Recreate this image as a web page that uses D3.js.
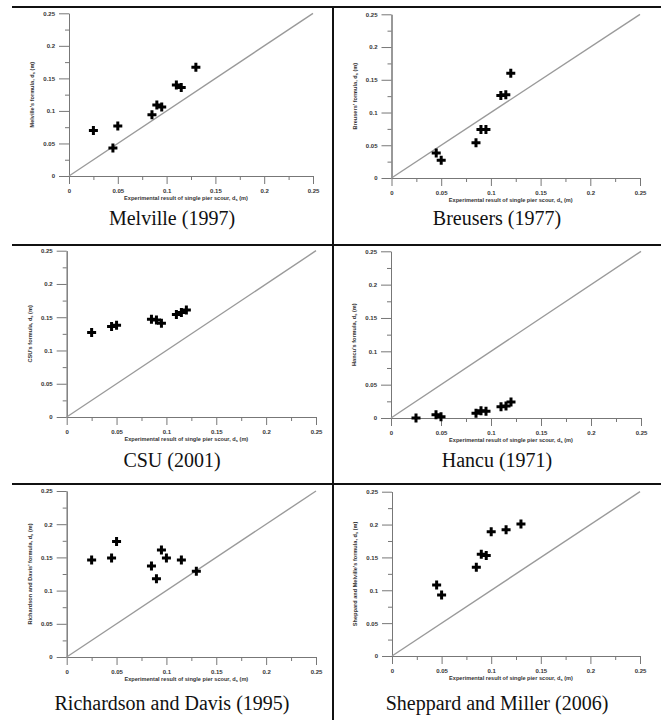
<!DOCTYPE html>
<html>
<head>
<meta charset="utf-8">
<script src="https://cdnjs.cloudflare.com/ajax/libs/d3/7.8.5/d3.min.js"></script>
<style>
  body { margin: 0; background: #fff; }
  svg { display: block; }
</style>
</head>
<body>
<svg id="chart" width="661" height="720"></svg>
<script>
// measured vs. predicted scour depth, [experimental ds, formula ds] in metres
const melville = [[0.025, 0.070], [0.045, 0.043], [0.05, 0.077], [0.085, 0.094], [0.09, 0.109],
                  [0.095, 0.106], [0.11, 0.140], [0.115, 0.136], [0.13, 0.167]];
const breusers = [[0.045, 0.038], [0.05, 0.027], [0.085, 0.054], [0.09, 0.074], [0.095, 0.074],
                  [0.11, 0.126], [0.115, 0.127], [0.12, 0.160]];
const csu      = [[0.025, 0.127], [0.045, 0.136], [0.05, 0.138], [0.085, 0.147], [0.09, 0.146],
                  [0.095, 0.141], [0.11, 0.154], [0.115, 0.157], [0.12, 0.161]];
const hancu    = [[0.025, 0.000], [0.045, 0.005], [0.05, 0.002], [0.085, 0.007], [0.09, 0.011],
                  [0.095, 0.010], [0.11, 0.017], [0.115, 0.018], [0.12, 0.024]];
const richardson = [[0.025, 0.146], [0.045, 0.149], [0.05, 0.174], [0.085, 0.137], [0.09, 0.118],
                    [0.095, 0.161], [0.1, 0.149], [0.115, 0.146], [0.13, 0.129]];
const sheppard = [[0.045, 0.108], [0.05, 0.093], [0.085, 0.135], [0.09, 0.155], [0.095, 0.153],
                  [0.1, 0.189], [0.115, 0.192], [0.13, 0.201]];

const captions = ["Melville (1997)", "Breusers (1977)", "CSU (2001)", "Hancu (1971)",
                  "Richardson and Davis (1995)", "Sheppard and Miller (2006)"];
const yTitles = ["Melville's formula, d", "Breusers' formula, d", "CSU's formula, d", "Hancu's formula, d",
                 "Richardson and Davis' formula, d", "Sheppard and Melville's formula, d"];
const xTitle = "Experimental result of single pier scour, d";
const majorTicks = [0, 0.05, 0.1, 0.15, 0.2, 0.25];
const minorTicks = [0.025, 0.075, 0.125, 0.175, 0.225];
const series = [melville, breusers, csu, hancu, richardson, sheppard];

// plot boxes in page pixels (left, right, bottom, top)
const boxes = [
  {l: 69, r: 313, b: 176, t: 13.3},
  {l: 391.5, r: 640, b: 178, t: 14.3},
  {l: 66.7, r: 316, b: 417, t: 250.7},
  {l: 391, r: 641, b: 418, t: 251.3},
  {l: 66.7, r: 316, b: 657, t: 491},
  {l: 392, r: 640, b: 656, t: 491.7}
];
const captionX = [172, 497];
const captionY = [225, 467, 710];

const svg = d3.select("#chart");

// table grid lines
const grid = svg.append("g").attr("stroke", "#111").attr("stroke-width", 2);
[7, 245, 484].forEach(y => grid.append("line").attr("x1", 12).attr("x2", 661).attr("y1", y).attr("y2", y));
grid.append("line").attr("x1", 333).attr("x2", 333).attr("y1", 6).attr("y2", 720);

const fmt = d => d === 0 ? "0" : String(+d.toFixed(3));
const cross = d3.symbol().type(d3.symbolCross).size(45);

series.forEach((pts, i) => {
  const b = boxes[i];
  const x = d3.scaleLinear().domain([0, 0.25]).range([b.l, b.r]);
  const y = d3.scaleLinear().domain([0, 0.25]).range([b.b, b.t]);
  const g = svg.append("g");

  // axes
  const xa = g.append("g").attr("transform", `translate(0,${b.b})`)
    .call(d3.axisBottom(x).tickValues(majorTicks).tickSize(8).tickFormat(fmt).tickSizeOuter(0));
  g.append("g").attr("transform", `translate(0,${b.b})`)
    .call(d3.axisBottom(x).tickValues(minorTicks).tickSize(4).tickFormat("").tickSizeOuter(0));
  const ya = g.append("g").attr("transform", `translate(${b.l},0)`)
    .call(d3.axisLeft(y).tickValues(majorTicks).tickSize(10).tickFormat(fmt).tickSizeOuter(0));
  g.append("g").attr("transform", `translate(${b.l},0)`)
    .call(d3.axisLeft(y).tickValues(minorTicks).tickSize(4).tickFormat("").tickSizeOuter(0));

  g.selectAll(".domain, .tick line").attr("stroke", "#777").attr("stroke-width", 1);
  g.selectAll(".tick text").attr("font-family", "Liberation Sans, Arial, sans-serif")
    .attr("font-size", 6).attr("font-weight", "bold").attr("fill", "#333");
  xa.selectAll(".tick text").attr("dy", 0).attr("y", 17);
  ya.selectAll(".tick text").attr("x", -14);

  // 1:1 line
  g.append("line")
    .attr("x1", x(0)).attr("y1", y(0)).attr("x2", x(0.25)).attr("y2", y(0.25))
    .attr("stroke", "#9a9a9a").attr("stroke-width", 1.4);

  // points
  g.selectAll("path.pt").data(pts).join("path").attr("class", "pt")
    .attr("d", cross)
    .attr("transform", d => `translate(${x(d[0])},${y(d[1])})`)
    .attr("fill", "#000");

  // axis titles
  const xt = g.append("text")
    .attr("x", (b.l + b.r) / 2 - 5).attr("y", b.b + 24)
    .attr("text-anchor", "middle")
    .attr("font-family", "Liberation Sans, Arial, sans-serif")
    .attr("font-size", 5.6).attr("font-weight", "bold").attr("fill", "#333");
  xt.append("tspan").text(xTitle);
  xt.append("tspan").attr("font-size", 4).attr("dy", 1.2).text("s");
  xt.append("tspan").attr("dy", -1.2).text(" (m)");

  const yt = g.append("text")
    .attr("transform", `translate(${b.l - 35},${(b.t + b.b) / 2}) rotate(-90)`)
    .attr("text-anchor", "middle")
    .attr("font-family", "Liberation Sans, Arial, sans-serif")
    .attr("font-size", 5.6).attr("font-weight", "bold").attr("fill", "#333");
  yt.append("tspan").text(yTitles[i]);
  yt.append("tspan").attr("font-size", 4).attr("dy", 1.2).text("s");
  yt.append("tspan").attr("dy", -1.2).text(" (m)");

  // caption
  svg.append("text")
    .attr("x", captionX[i % 2]).attr("y", captionY[Math.floor(i / 2)])
    .attr("text-anchor", "middle")
    .attr("font-family", "'Liberation Serif', 'Times New Roman', serif")
    .attr("font-size", 20).attr("fill", "#111")
    .text(captions[i]);
});
</script>
</body>
</html>
